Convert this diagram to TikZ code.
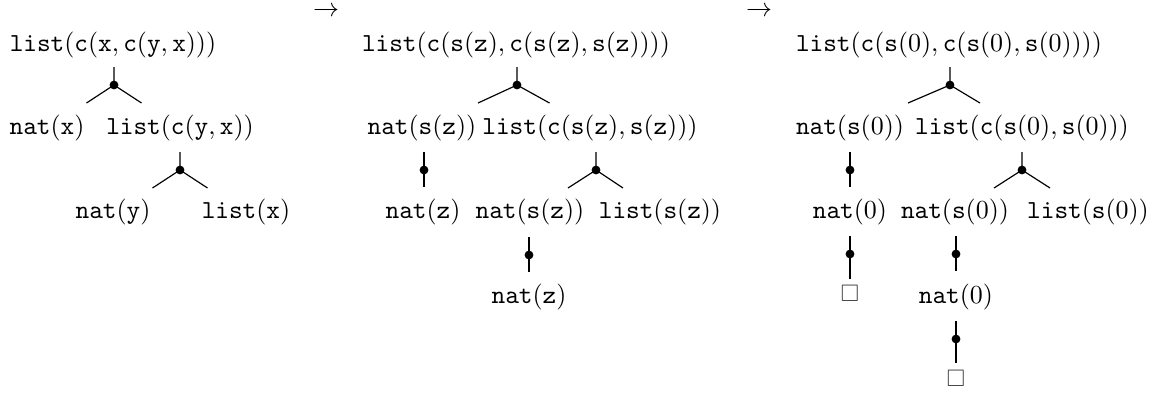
\documentclass[tikz,border=0pt]{standalone}
\usepackage{amssymb}
\usepackage{graphicx}
\usetikzlibrary{calc}
\tikzset{
  term/.style={inner sep=0pt, anchor=center},
  conn/.style={line width=0.45pt},
  leafbox/.style={inner sep=0pt, anchor=center, text=black!75},
}
\newcommand\forkat[4]{%
  \coordinate (#1) at #2;
  \draw[conn] ($(#1)+(0,-18)$) -- (#1) -- ++(#3,18) (#1) -- ++(#4,18);
  \fill (#1) circle[radius=1.7pt];}
\newcommand\chainat[3]{%
  \coordinate (#1) at #2;
  \draw[conn] ($(#1)+(0,-18)$) -- ($(#1)+(0,#3)$);
  \fill (#1) circle[radius=1.7pt];}
\newcommand\leafsq{\scalebox{0.92}{$\square$}}
\begin{document}
\begin{tikzpicture}[x=0.385pt,y=-0.385pt]
\useasboundingbox (0,0) rectangle (1162,396);
% arrows
\node[term] (ar1) at (326,11.5) {$\rightarrow$};
\node[term] (ar2) at (759,11.5) {$\rightarrow$};
% panel 1
\node[term] (a0) at (113,45) {$\mathtt{list}(\mathtt{c}(\mathtt{x},\mathtt{c}(\mathtt{y},\mathtt{x})))$};
\forkat{fa0}{(114,85)}{-27.5}{27.5}
\node[term] (a1) at (47,128) {$\mathtt{nat}(\mathtt{x})$};
\node[term] (a2) at (180,128) {$\mathtt{list}(\mathtt{c}(\mathtt{y},\mathtt{x}))$};
\forkat{fa2}{(180,170)}{-27.5}{27.5}
\node[term] (a3) at (113,212) {$\mathtt{nat}(\mathtt{y})$};
\node[term] (a4) at (246,212) {$\mathtt{list}(\mathtt{x})$};
% panel 2
\node[term] (b0) at (516,45) {$\mathtt{list}(\mathtt{c}(\mathtt{s}(\mathtt{z}),\mathtt{c}(\mathtt{s}(\mathtt{z}),\mathtt{s}(\mathtt{z}))))$};
\forkat{fb0}{(517,85)}{-39}{32.5}
\node[term] (b1) at (422,128) {$\mathtt{nat}(\mathtt{s}(\mathtt{z}))$};
\node[term] (b2) at (590,128) {$\mathtt{list}(\mathtt{c}(\mathtt{s}(\mathtt{z}),\mathtt{s}(\mathtt{z})))$};
\chainat{fb1}{(424,170)}{17}
\forkat{fb2}{(596,170)}{-28}{27}
\node[term] (b3) at (423,212) {$\mathtt{nat}(\mathtt{z})$};
\node[term] (b4) at (530,212) {$\mathtt{nat}(\mathtt{s}(\mathtt{z}))$};
\node[term] (b5) at (660,212) {$\mathtt{list}(\mathtt{s}(\mathtt{z}))$};
\chainat{fb4}{(529,255)}{17}
\node[term] (b6) at (529,297) {$\mathtt{nat}(\mathtt{z})$};
% panel 3
\node[term] (c0) at (949,45) {$\mathtt{list}(\mathtt{c}(\mathtt{s}(0),\mathtt{c}(\mathtt{s}(0),\mathtt{s}(0))))$};
\forkat{fc0}{(950,85)}{-42}{30}
\node[term] (c1) at (850,128) {$\mathtt{nat}(\mathtt{s}(0))$};
\node[term] (c2) at (1022,128) {$\mathtt{list}(\mathtt{c}(\mathtt{s}(0),\mathtt{s}(0)))$};
\chainat{fc1}{(850,170)}{17}
\forkat{fc2}{(1022,170)}{-28}{28}
\node[term] (c3) at (850,212) {$\mathtt{nat}(0)$};
\node[term] (c4) at (955,212) {$\mathtt{nat}(\mathtt{s}(0))$};
\node[term] (c5) at (1088,212) {$\mathtt{list}(\mathtt{s}(0))$};
\chainat{fc3}{(850,254)}{25}
\node[leafbox] (c6) at (850,293) {\leafsq};
\chainat{fc4}{(956,254)}{17}
\node[term] (c7) at (956,297) {$\mathtt{nat}(0)$};
\chainat{fc7}{(956,339)}{24}
\node[leafbox] (c8) at (956,378) {\leafsq};
\end{tikzpicture}
\end{document}
